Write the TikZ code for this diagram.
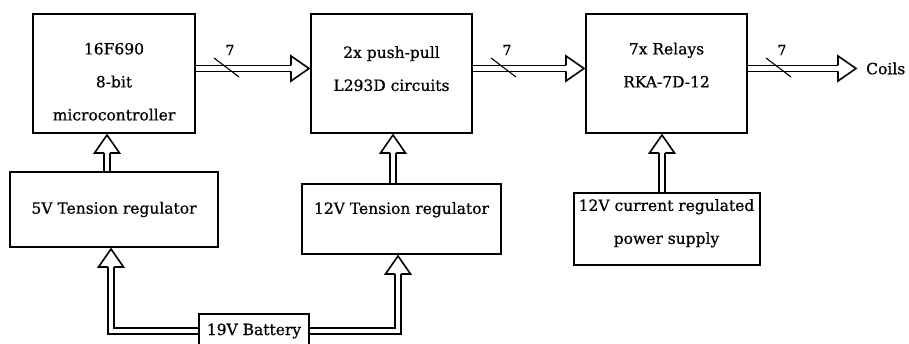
\documentclass[tikz,border=0pt]{standalone}
\usepackage{fontspec}
\setmainfont{DejaVu Serif}[FakeBold=0.7]
\usetikzlibrary{positioning,calc}

\begin{document}
\begin{tikzpicture}[
  x=1pt, y=1pt,
  blk/.style={draw=black, line width=2pt, align=center,
              font=\fontsize{15.5}{33}\selectfont, inner sep=0pt},
  lbl/.style={font=\fontsize{15.5}{17}\selectfont, inner sep=0pt},
  nlbl/.style={font=\fontsize{14}{16}\selectfont, inner sep=0pt},
  bus/.style={draw=black, line width=1.6pt, double=white, double distance=4.4pt,
              shorten >=19pt},
  tick/.style={draw=black, line width=1.1pt},
  fathead/.pic={\draw[line width=1.6pt, line join=miter]
                (-19,3) -- (-19,12.5) -- (-1,0) -- (-19,-12.5) -- (-19,-3);},
  node distance=37pt
]
\useasboundingbox (0,0) rectangle (909,344);
\node[blk, minimum width=162pt, minimum height=119pt] (mcu) at (114,270.5)
     {\rule{0pt}{28pt}16F690\\8-bit\\microcontroller};
\node[blk, minimum width=161pt, minimum height=119pt, right=114pt of mcu] (drv)
     {2x push-pull\\L293D circuits\rule[-10pt]{0pt}{10pt}};
\node[blk, minimum width=161pt, minimum height=119pt, right=112pt of drv] (rly)
     {7x Relays\\RKA-7D-12\rule[-17pt]{0pt}{17pt}};
\node[lbl, anchor=west, inner xsep=9pt] (coils) at (857,275.5) {Coils};
\node[blk, minimum width=208pt, minimum height=75pt, below=of mcu] (reg5)
     {5V Tension regulator};
\node[blk, minimum width=199pt, minimum height=70pt] (reg12) at (401.5,125)
     {12V Tension regulator\rule[-22pt]{0pt}{22pt}};
\node[blk, minimum width=186pt, minimum height=72pt, below=58pt of rly] (psu)
     {12V current regulated\\power supply\rule[-15pt]{0pt}{15pt}};
\node[blk, minimum width=110pt, minimum height=34pt] (bat) at (254,13) {19V Battery};

% 7-line buses
\foreach \a/\b [count=\i] in {mcu/drv, drv/rly, rly/coils} {
  \draw[bus] ($(\a.east)+(0,5)$) -- ($(\a.east -| \b.west)+(0,5)$);
  \pic at ($(\a.east -| \b.west)+(0,5)$) {fathead};
  \draw[tick] ($(\a.east)+(18,15.5)$) -- ++(25,-19);
  \node[nlbl] (w\i) at ($(\a.east)+(34,23.5)$) {7};
}

% supplies
\coordinate (c1) at ([xshift=-7pt]mcu.south);
\coordinate (c2) at ([xshift=1.5pt]drv.south);
\coordinate (c3) at ([xshift=-4.5pt]rly.south);
\coordinate (c4) at ([xshift=-3pt]reg5.south);
\coordinate (c5) at ([xshift=-3.5pt]reg12.south);
\draw[bus] (c1 |- reg5.north) -- (c1);
\draw[bus] (c2 |- reg12.north) -- (c2);
\draw[bus] (c3 |- psu.north) -- (c3);
\draw[bus] (bat.west) -| (c4);
\draw[bus] (bat.east) -| (c5);
\foreach \c in {c1,c2,c3,c4,c5} \pic[rotate=90] at (\c) {fathead};
\end{tikzpicture}
\end{document}
